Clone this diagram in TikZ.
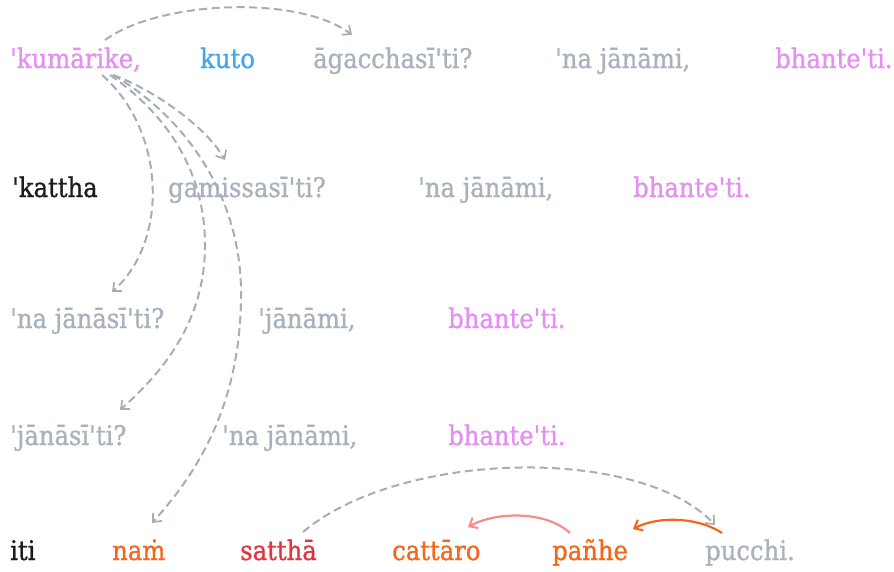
\documentclass[tikz,border=0pt]{standalone}
\usepackage{fontspec}
\usetikzlibrary{arrows.meta,calc}
\newfontfamily\glossfont[FakeBold=1.0]{DejaVu Serif Condensed}
\definecolor{wgray}{HTML}{A9B2BC}
\definecolor{wpink}{HTML}{E48FF2}
\definecolor{wblue}{HTML}{44A4EE}
\definecolor{wblack}{HTML}{1C1C1C}
\definecolor{worange}{HTML}{F4661B}
\definecolor{wred}{HTML}{E0353F}
\definecolor{wsalmon}{HTML}{F58C8C}
\definecolor{lgray}{HTML}{A5ADB6}
\tikzset{
  word/.style={anchor=base west, inner sep=0pt, font=\glossfont\fontsize{27}{32}\selectfont},
  link/.style={draw=lgray, line width=2pt, dash pattern=on 8pt off 4.5pt,
    -{Straight Barb[length=7pt,width=12pt,line width=1.7pt]}},
  solidlink/.style={line width=2.2pt, -{Straight Barb[length=7pt,width=12pt,line width=2pt]}}
}
\begin{document}
\begin{tikzpicture}[x=1pt,y=-1pt]
\useasboundingbox (0,0) rectangle (894,571);
% row 1
\node[word, text=wpink]  (kum)   at (10,68)  {'kumārike,};
\node[word, text=wblue]  (kuto)  at (200,68) {kuto};
\node[word, text=wgray]  (aga)   at (313,68) {āgacchasī'ti?};
\node[word, text=wgray]  (naja)  at (555,68) {'na jānāmi,};
\node[word, text=wpink]  (bha)   at (775,68) {bhante'ti.};
% row 2
\node[word, text=wblack] (kat)   at (12,197)  {'kattha};
\node[word, text=wgray]  (gam)   at (168,197) {gamissasī'ti?};
\node[word, text=wgray]  (najb)  at (418,197) {'na jānāmi,};
\node[word, text=wpink]  (bhb)   at (633,197) {bhante'ti.};
% row 3
\node[word, text=wgray]  (najs)  at (10,328)  {'na jānāsī'ti?};
\node[word, text=wgray]  (janc)  at (258,328) {'jānāmi,};
\node[word, text=wpink]  (bhc)   at (448,328) {bhante'ti.};
% row 4
\node[word, text=wgray]  (jans)  at (10,445)  {'jānāsī'ti?};
\node[word, text=wgray]  (najd)  at (222,445) {'na jānāmi,};
\node[word, text=wpink]  (bhd)   at (448,445) {bhante'ti.};
% row 5
\node[word, text=wblack] (iti)   at (10,560)  {iti};
\node[word, text=worange](nam)   at (112,560) {naṁ};
\node[word, text=wred]   (sat)   at (240,560) {satthā};
\node[word, text=worange](cat)   at (392,560) {cattāro};
\node[word, text=worange](panhe) at (552,560) {pañhe};
\node[word, text=wgray]  (puc)   at (705,560) {pucchi.};

% dependency arcs from 'kumārike,
\draw[link] ([shift={(95,-28)}]kum.base west) .. controls (160,0) and (300,-5) .. ([shift={(39,-33)}]aga.base west);
\draw[link] ([shift={(103,7)}]kum.base west) .. controls (150,88) and (205,125) .. ([shift={(57,-37)}]gam.base west);
\draw[link] ([shift={(92,7)}]kum.base west) .. controls (165,130) and (170,240) .. ([shift={(102,-36)}]najs.base west);
\draw[link] ([shift={(100,7)}]kum.base west) .. controls (175,120) and (205,180) .. (205,245)
  .. controls (205,320) and (165,370) .. ([shift={(110,-35)}]jans.base west);
\draw[link] ([shift={(103,7)}]kum.base west) .. controls (190,120) and (240,200) .. (241,290)
  .. controls (242,400) and (200,470) .. ([shift={(40,-37)}]nam.base west);

% arcs on the last line
\draw[link] ([shift={(63,-28)}]sat.base west) .. controls (400,450) and (640,445) .. ([shift={(10,-35)}]puc.base west);
\draw[solidlink, draw=wsalmon] ([shift={(18,-27)}]panhe.base west) .. controls (545,510) and (495,512) .. ([shift={(76,-33)}]cat.base west);
\draw[solidlink, draw=worange] ([shift={(17,-27)}]puc.base west) .. controls (700,518) and (660,515) .. ([shift={(81,-31)}]panhe.base west);
\end{tikzpicture}
\end{document}
